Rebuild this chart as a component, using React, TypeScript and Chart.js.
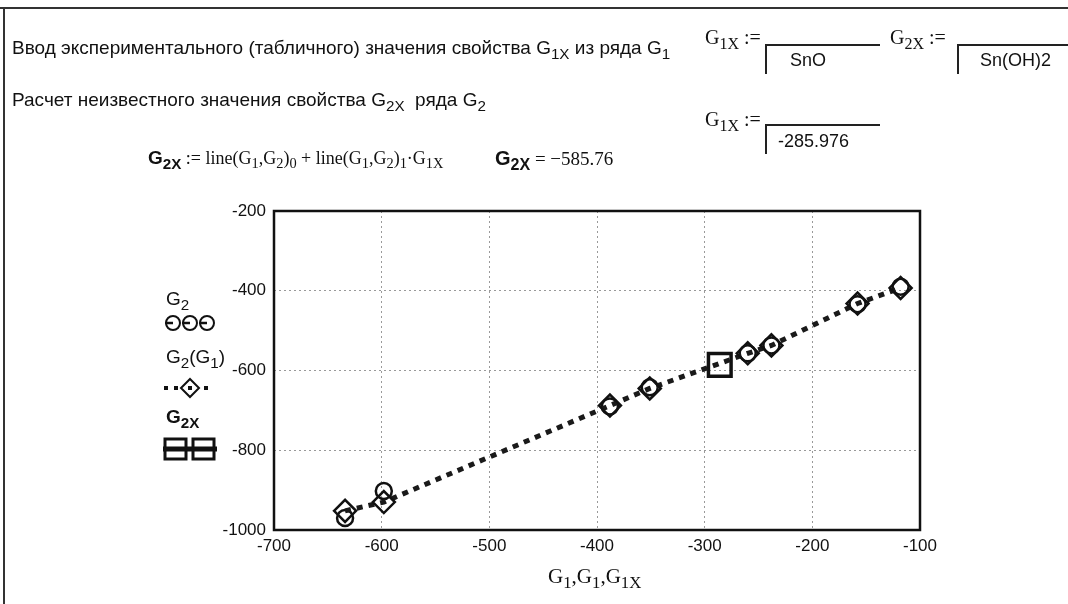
import React, { useEffect, useRef } from "react";
import { Chart, registerables } from "chart.js";
Chart.register(...registerables);

// ---- data ----
const G1 = [-634, -598, -388, -351, -260, -238, -158, -118];
const G2 = [-970, -902, -690, -642, -557, -537, -434, -390];
const G2fit = [-952, -930, -688, -645, -557, -537, -432, -393];
const G1X = [-285.976];
const G2X = [-585.76];
const xTicks = [-700, -600, -500, -400, -300, -200, -100];
const yTicks = [-1000, -800, -600, -400, -200];

const SANS = '"Liberation Sans", Arial, sans-serif';
const SERIF = '"Liberation Serif", "DejaVu Serif", serif';

const boxPlugin = {
  id: "mcadBox",
  beforeDatasetsDraw(chart: any) {
    const { ctx, chartArea: a } = chart;
    ctx.save();
    ctx.strokeStyle = "#111";
    ctx.lineWidth = 2.5;
    ctx.strokeRect(a.left, a.top, a.right - a.left, a.bottom - a.top);
    ctx.restore();
  },
};

const abs = (left: number, top: number, extra: any = {}): React.CSSProperties => ({
  position: "absolute",
  left,
  top,
  whiteSpace: "nowrap",
  lineHeight: 1,
  ...extra,
});

const Sub = ({ children }: { children: React.ReactNode }) => (
  <sub style={{ fontSize: "80%", verticalAlign: "-0.3em", lineHeight: 0 }}>{children}</sub>
);

export default function App() {
  const ref = useRef<HTMLCanvasElement | null>(null);

  useEffect(() => {
    if (!ref.current) return;
    const chart = new Chart(ref.current, {
      type: "scatter",
      data: {
        datasets: [
          {
            label: "G2(G1)",
            data: G1.map((x, i) => ({ x, y: G2fit[i] })),
            showLine: true,
            borderColor: "#1a1a1a",
            borderWidth: 5,
            borderDash: [6, 6],
            pointStyle: "rectRot",
            pointRadius: 11,
            pointBorderWidth: 2.5,
            pointBackgroundColor: "rgba(255,255,255,0)",
            pointBorderColor: "#111",
          },
          {
            label: "G2",
            data: G1.map((x, i) => ({ x, y: G2[i] })),
            showLine: false,
            pointStyle: "circle",
            pointRadius: 8,
            pointBorderWidth: 2.5,
            pointBackgroundColor: "rgba(255,255,255,0)",
            pointBorderColor: "#111",
          },
          {
            label: "G2X",
            data: G1X.map((x, i) => ({ x, y: G2X[i] })),
            showLine: false,
            pointStyle: "rect",
            pointRadius: 16,
            pointBorderWidth: 3.5,
            pointBackgroundColor: "rgba(255,255,255,0)",
            pointBorderColor: "#111",
          },
        ],
      },
      options: {
        responsive: false,
        animation: false,
        layout: { padding: { left: 200, top: 211, right: 148, bottom: 44 } },
        plugins: { legend: { display: false }, tooltip: { enabled: false } },
        scales: {
          x: {
            type: "linear",
            min: -700,
            max: -100,
            afterBuildTicks: (s: any) => {
              s.ticks = xTicks.map((v) => ({ value: v }));
            },
            afterFit: (s: any) => {
              s.height = 30;
            },
            grid: { color: "#999", lineWidth: 1, drawTicks: false },
            border: { display: false, dash: [2, 3] },
            ticks: {
              color: "#111",
              font: { family: SANS, size: 17 },
              padding: 6,
              callback: (v: any) => String(v),
            },
          },
          y: {
            type: "linear",
            min: -1000,
            max: -200,
            afterBuildTicks: (s: any) => {
              s.ticks = yTicks.map((v) => ({ value: v }));
            },
            afterFit: (s: any) => {
              s.width = 74;
            },
            grid: { color: "#999", lineWidth: 1, drawTicks: false },
            border: { display: false, dash: [2, 3] },
            ticks: {
              color: "#111",
              font: { family: SANS, size: 17 },
              padding: 8,
              callback: (v: any) => String(v),
            },
          },
        },
      },
      plugins: [boxPlugin],
    } as any);
    return () => chart.destroy();
  }, []);

  const txt: React.CSSProperties = { fontFamily: SANS, fontSize: 19, color: "#111" };
  const math: React.CSSProperties = { fontFamily: SERIF, fontSize: 18, color: "#111" };

  return (
    <div
      style={{
        position: "fixed",
        left: 0,
        top: 0,
        width: 1068,
        height: 604,
        background: "#fff",
        overflow: "hidden",
      }}
    >
      {/* frame */}
      <div style={{ position: "absolute", left: 0, top: 7, width: 1068, height: 2, background: "#333" }} />
      <div style={{ position: "absolute", left: 3, top: 7, width: 2, height: 597, background: "#333" }} />

      <canvas
        ref={ref}
        width={1068}
        height={604}
        style={{ position: "absolute", left: 0, top: 0, width: 1068, height: 604 }}
      />

      {/* header text */}
      <div style={abs(12, 38, txt)}>
        Ввод экспериментального (табличного) значения свойства G<Sub>1X</Sub> из ряда G<Sub>1</Sub>
      </div>
      <div style={abs(12, 90, txt)}>
        Расчет неизвестного значения свойства G<Sub>2X</Sub>&nbsp; ряда G<Sub>2</Sub>
      </div>
      <div style={abs(148, 148, math)}>
        <b style={{ fontFamily: SANS, fontWeight: 700, fontSize: 19 }}>
          G<Sub>2X</Sub>
        </b>{" "}
        := line(G<Sub>1</Sub>,G<Sub>2</Sub>)<Sub>0</Sub> + line(G<Sub>1</Sub>,G<Sub>2</Sub>)<Sub>1</Sub>·G<Sub>1X</Sub>
      </div>
      <div style={abs(495, 148, { ...math, fontSize: 19 })}>
        <b style={{ fontFamily: SANS, fontWeight: 700, fontSize: 20 }}>
          G<Sub>2X</Sub>
        </b>{" "}
        = −585.76
      </div>

      {/* right side inputs */}
      <div style={abs(705, 27, { ...math, fontSize: 20 })}>
        G<Sub>1X</Sub> :=
      </div>
      <div style={{ position: "absolute", left: 765, top: 44, width: 115, height: 2, background: "#222" }} />
      <div style={{ position: "absolute", left: 765, top: 44, width: 2, height: 30, background: "#222" }} />
      <div style={abs(790, 51, { ...txt, fontSize: 18 })}>SnO</div>

      <div style={abs(890, 27, { ...math, fontSize: 20 })}>
        G<Sub>2X</Sub> :=
      </div>
      <div style={{ position: "absolute", left: 957, top: 44, width: 111, height: 2, background: "#222" }} />
      <div style={{ position: "absolute", left: 957, top: 44, width: 2, height: 30, background: "#222" }} />
      <div style={abs(980, 51, { ...txt, fontSize: 18 })}>Sn(OH)2</div>

      <div style={abs(705, 109, { ...math, fontSize: 20 })}>
        G<Sub>1X</Sub> :=
      </div>
      <div style={{ position: "absolute", left: 765, top: 124, width: 115, height: 2, background: "#222" }} />
      <div style={{ position: "absolute", left: 765, top: 124, width: 2, height: 30, background: "#222" }} />
      <div style={abs(778, 132, { ...txt, fontSize: 18 })}>-285.976</div>

      {/* legend */}
      <div style={abs(166, 289, { ...txt, fontSize: 19 })}>
        G<Sub>2</Sub>
      </div>
      <svg style={{ position: "absolute", left: 160, top: 312 }} width={62} height={22}>
        {[13, 30, 47].map((cx) => (
          <g key={cx}>
            <circle cx={cx} cy={11} r={7} fill="none" stroke="#111" strokeWidth={2} />
            <line x1={cx - 8} y1={11} x2={cx} y2={11} stroke="#111" strokeWidth={2.5} />
          </g>
        ))}
      </svg>
      <div style={abs(166, 347, { ...txt, fontSize: 19 })}>
        G<Sub>2</Sub>(G<Sub>1</Sub>)
      </div>
      <svg style={{ position: "absolute", left: 160, top: 376 }} width={62} height={24}>
        <rect x={4} y={10} width={4} height={4} fill="#111" />
        <rect x={14} y={10} width={4} height={4} fill="#111" />
        <polygon points="30,3 39,12 30,21 21,12" fill="none" stroke="#111" strokeWidth={2} />
        <rect x={28} y={10} width={4} height={4} fill="#111" />
        <rect x={44} y={10} width={4} height={4} fill="#111" />
      </svg>
      <div style={abs(166, 407, { ...txt, fontSize: 19, fontWeight: 700 })}>
        G<Sub>2X</Sub>
      </div>
      <svg style={{ position: "absolute", left: 160, top: 436 }} width={62} height={26}>
        <rect x={5} y={3} width={21} height={20} fill="none" stroke="#111" strokeWidth={3} />
        <rect x={33} y={3} width={21} height={20} fill="none" stroke="#111" strokeWidth={3} />
        <line x1={3} y1={13} x2={57} y2={13} stroke="#111" strokeWidth={5} />
      </svg>

      {/* x axis title */}
      <div style={abs(548, 566, { ...math, fontSize: 21 })}>
        G<Sub>1</Sub>,G<Sub>1</Sub>,G<Sub>1X</Sub>
      </div>
    </div>
  );
}
